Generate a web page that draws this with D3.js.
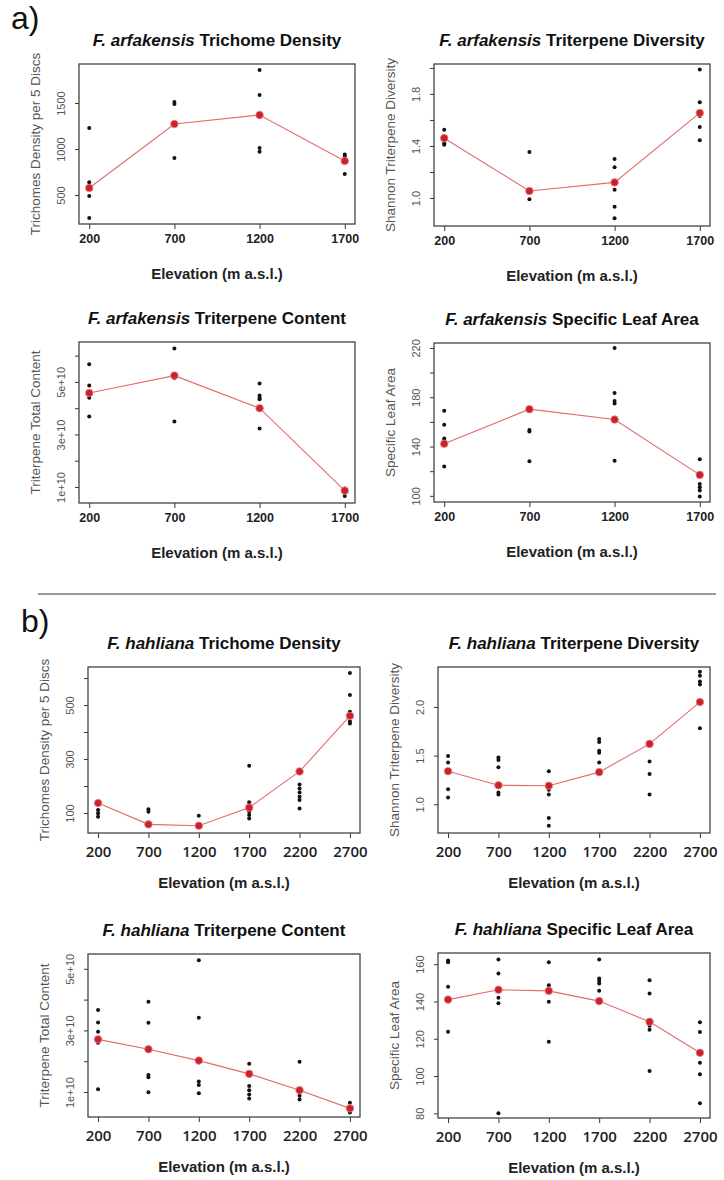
<!DOCTYPE html>
<html>
<head>
<meta charset="utf-8">
<title>Elevation traits</title>
<style>
  body { margin: 0; background: #fff; }
  svg { display: block; font-family: "Liberation Sans", Arial, sans-serif; }
  .ttl { font-size: 17px; font-weight: bold; fill: #111; text-anchor: middle; }
  .xt { font-size: 15px; font-weight: bold; fill: #222; text-anchor: middle; }
  .ylab { font-size: 13.5px; fill: #555; text-anchor: middle; }
  .tag { font-size: 32px; fill: #111; }
</style>
</head>
<body>
<script src="https://cdn.jsdelivr.net/npm/d3@7/dist/d3.min.js"></script>
<script>
// elevations
const elevA = [200, 700, 1200, 1700];
const elevB = [200, 700, 1200, 1700, 2200, 2700];

// F. arfakensis
const arfTrichPts = [[1228, 640, 600, 489, 250], [1510, 1490, 1260, 902], [1859, 1587, 1350, 1010, 970], [940, 915, 880, 728]];
const arfTrichMean = [576, 1272, 1370, 870];
const arfDivPts = [[1.525, 1.45, 1.42, 1.41], [1.354, 0.99], [1.30, 1.236, 1.064, 0.933, 0.844], [1.987, 1.736, 1.63, 1.546, 1.444]];
const arfDivMean = [1.46, 1.054, 1.12, 1.654];
const arfContPts = [[5.67e10, 4.86e10, 4.5e10, 4.4e10, 3.68e10], [6.27e10, 5.15e10, 3.49e10], [4.94e10, 4.48e10, 4.4e10, 4.34e10, 3.23e10], [0.94e10, 0.86e10, 0.66e10]];
const arfContMean = [4.58e10, 5.24e10, 4.0e10, 0.86e10];
const arfSlaPts = [[169, 157.6, 146.5, 144.9, 123.8], [170, 153.5, 152.2, 128.1], [220, 183.5, 177, 175, 128.4], [129.7, 109.7, 107, 104.3, 99.5]];
const arfSlaMean = [142.2, 170.3, 161.9, 117];

// F. hahliana
const hahTrichPts = [[111, 99, 86], [113.6, 105], [90], [275, 139.5, 105, 92.6, 80], [206, 191, 176.5, 160, 148, 117], [618.5, 537, 475, 463, 440, 432]];
const hahTrichMean = [137, 58, 53, 120, 254, 460];
const hahDivPts = [[1.497, 1.43, 1.154, 1.07], [1.48, 1.455, 1.38, 1.12, 1.10], [1.34, 1.15, 1.10, 0.86, 0.78], [1.67, 1.64, 1.55, 1.53, 1.43], [1.44, 1.31, 1.10], [2.36, 2.32, 2.26, 2.23, 1.78]];
const hahDivMean = [1.34, 1.195, 1.19, 1.33, 1.62, 2.05];
const hahContPts = [[3.66e10, 3.26e10, 2.96e10, 2.6e10, 1.09e10], [3.93e10, 3.25e10, 1.55e10, 1.48e10, 0.99e10], [5.28e10, 3.41e10, 1.34e10, 1.23e10, 0.96e10], [1.92e10, 1.2e10, 1.06e10, 0.92e10, 0.79e10], [1.98e10, 0.88e10, 0.76e10], [0.65e10, 0.34e10]];
const hahContMean = [2.71e10, 2.39e10, 2.02e10, 1.59e10, 1.06e10, 0.47e10];
const hahSlaPts = [[162, 161, 147.9, 123.75], [162.5, 155, 142, 139, 80], [161, 148.75, 139.8, 118.4], [162.5, 152.3, 151, 149.6, 145.7], [151.4, 144.3, 127, 124.8, 102.7], [128.9, 123.6, 107.1, 100.9, 85.4]];
const hahSlaMean = [141, 146.3, 145.7, 140.2, 129.1, 112.5];

// y ticks and which of them carry a label
const ticksTrichA = [500, 1000, 1500], labTrichA = [500, 1000, 1500];
const ticksDivA = [1.0, 1.2, 1.4, 1.6, 1.8, 2.0], labDivA = [1.0, 1.4, 1.8];
const ticksContA = [1e10, 2e10, 3e10, 4e10, 5e10, 6e10], labContA = [1e10, 3e10, 5e10];
const ticksSlaA = [100, 120, 140, 160, 180, 200, 220], labSlaA = [100, 140, 180, 220];
const ticksTrichB = [100, 200, 300, 400, 500, 600], labTrichB = [100, 300, 500];
const ticksDivB = [1.0, 1.5, 2.0], labDivB = [1.0, 1.5, 2.0];
const ticksContB = [1e10, 2e10, 3e10, 4e10, 5e10], labContB = [1e10, 3e10, 5e10];
const ticksSlaB = [80, 100, 120, 140, 160], labSlaB = [80, 100, 120, 140, 160];

const fmtDec = d => d.toFixed(1);
const fmtInt = d => String(d);
const fmtE = d => (d / 1e10) + "e+10";

const W = 724, H = 1180;
const svg = d3.select("body").append("svg").attr("width", W).attr("height", H);

const panels = [
  {sp: "F. arfakensis", name: "Trichome Density", ylab: "Trichomes Density per 5 Discs", elev: elevA, pts: arfTrichPts, mean: arfTrichMean,
   ticks: ticksTrichA, labs: labTrichA, fmt: fmtInt, x0: 79, x1: 355, y0: 64, y1: 224, xd: [140, 1760], yd: [185, 1924], big: false},
  {sp: "F. arfakensis", name: "Triterpene Diversity", ylab: "Shannon Triterpene Diversity", elev: elevA, pts: arfDivPts, mean: arfDivMean,
   ticks: ticksDivA, labs: labDivA, fmt: fmtDec, x0: 434, x1: 710, y0: 64, y1: 226, xd: [140, 1760], yd: [0.785, 2.03], big: false},
  {sp: "F. arfakensis", name: "Triterpene Content", ylab: "Triterpene Total Content", elev: elevA, pts: arfContPts, mean: arfContMean,
   ticks: ticksContA, labs: labContA, fmt: fmtE, x0: 79, x1: 355, y0: 342, y1: 503, xd: [140, 1760], yd: [0.39e10, 6.52e10], big: false},
  {sp: "F. arfakensis", name: "Specific Leaf Area", ylab: "Specific Leaf Area", elev: elevA, pts: arfSlaPts, mean: arfSlaMean,
   ticks: ticksSlaA, labs: labSlaA, fmt: fmtInt, x0: 434, x1: 710, y0: 343, y1: 502, xd: [140, 1760], yd: [95, 224], big: false},
  {sp: "F. hahliana", name: "Trichome Density", ylab: "Trichomes Density per 5 Discs", elev: elevB, pts: hahTrichPts, mean: hahTrichMean,
   ticks: ticksTrichB, labs: labTrichB, fmt: fmtInt, x0: 88, x1: 360, y0: 667, y1: 833, xd: [100, 2800], yd: [26, 641], big: true},
  {sp: "F. hahliana", name: "Triterpene Diversity", ylab: "Shannon Triterpene Diversity", elev: elevB, pts: hahDivPts, mean: hahDivMean,
   ticks: ticksDivB, labs: labDivB, fmt: fmtDec, x0: 438, x1: 710, y0: 667, y1: 833, xd: [100, 2800], yd: [0.705, 2.41], big: true},
  {sp: "F. hahliana", name: "Triterpene Content", ylab: "Triterpene Total Content", elev: elevB, pts: hahContPts, mean: hahContMean,
   ticks: ticksContB, labs: labContB, fmt: fmtE, x0: 88, x1: 360, y0: 954, y1: 1117, xd: [100, 2800], yd: [0.19e10, 5.48e10], big: true},
  {sp: "F. hahliana", name: "Specific Leaf Area", ylab: "Specific Leaf Area", elev: elevB, pts: hahSlaPts, mean: hahSlaMean,
   ticks: ticksSlaB, labs: labSlaB, fmt: fmtInt, x0: 438, x1: 710, y0: 953, y1: 1118, xd: [100, 2800], yd: [77.5, 166], big: true}
];

panels.forEach(p => {
  const x = d3.scaleLinear().domain(p.xd).range([p.x0, p.x1]);
  const y = d3.scaleLinear().domain(p.yd).range([p.y1, p.y0]);
  const g = svg.append("g");

  // title, species in italic
  const t = g.append("text").attr("class", "ttl")
    .attr("x", (p.x0 + p.x1) / 2).attr("y", p.y0 - 18);
  t.append("tspan").style("font-style", "italic").text(p.sp);
  t.append("tspan").text(" " + p.name);

  // x axis
  const xa = g.append("g").attr("transform", `translate(0,${p.y1})`)
    .call(d3.axisBottom(x).tickValues(p.elev).tickSize(5).tickFormat(d => d));
  xa.select(".domain").remove();
  xa.selectAll("line").attr("stroke", "#333");
  xa.selectAll("text").attr("y", p.big ? 13 : 10)
    .style("font-size", p.big ? "15px" : "12.5px")
    .style("font-weight", p.big ? "600" : "bold")
    .style("font-family", p.big ? "'Open Sans', sans-serif" : "'Liberation Sans', sans-serif")
    .attr("fill", "#222");

  // y axis, rotated labels as in R
  const ya = g.append("g").attr("transform", `translate(${p.x0},0)`)
    .call(d3.axisLeft(y).tickValues(p.ticks).tickSize(4)
      .tickFormat(d => p.labs.includes(d) ? p.fmt(d) : ""));
  ya.select(".domain").remove();
  ya.selectAll("line").attr("stroke", "#333");
  ya.selectAll("text")
    .attr("transform", "rotate(-90)")
    .attr("x", 0).attr("y", -14).attr("dy", 0)
    .style("text-anchor", "middle")
    .style("font-size", "11px")
    .attr("fill", "#555");

  g.append("text").attr("class", "ylab")
    .attr("transform", `translate(${p.x0 - 39},${(p.y0 + p.y1) / 2}) rotate(-90)`)
    .text(p.ylab);

  g.append("text").attr("class", "xt")
    .attr("x", (p.x0 + p.x1) / 2).attr("y", p.y1 + 55)
    .text("Elevation (m a.s.l.)");

  // raw points
  const flat = [];
  p.pts.forEach((vals, i) => vals.forEach(v => flat.push({e: p.elev[i], v: v})));
  g.append("g").selectAll("circle").data(flat).join("circle")
    .attr("cx", d => x(d.e)).attr("cy", d => y(d.v)).attr("r", 2)
    .attr("fill", "#111");

  // mean line
  const line = d3.line().x((d, i) => x(p.elev[i])).y(d => y(d));
  g.append("path").datum(p.mean).attr("d", line)
    .attr("fill", "none").attr("stroke", "#e46a6a").attr("stroke-width", 1.1);
  g.append("g").selectAll("circle").data(p.mean).join("circle")
    .attr("cx", (d, i) => x(p.elev[i])).attr("cy", d => y(d)).attr("r", 3.8)
    .attr("fill", "#c9222a").attr("stroke", "#ee8888").attr("stroke-width", 0.8);

  // plot box
  g.append("rect").attr("x", p.x0).attr("y", p.y0)
    .attr("width", p.x1 - p.x0).attr("height", p.y1 - p.y0)
    .attr("fill", "none").attr("stroke", "#444").attr("stroke-width", 1.3);
});

// section tags and divider
svg.append("text").attr("class", "tag").attr("x", 11).attr("y", 29).text("a)");
svg.append("text").attr("class", "tag").attr("x", 21).attr("y", 632).text("b)");
svg.append("line").attr("x1", 38).attr("x2", 716).attr("y1", 594).attr("y2", 594)
  .attr("stroke", "#999").attr("stroke-width", 2);
</script>
</body>
</html>
